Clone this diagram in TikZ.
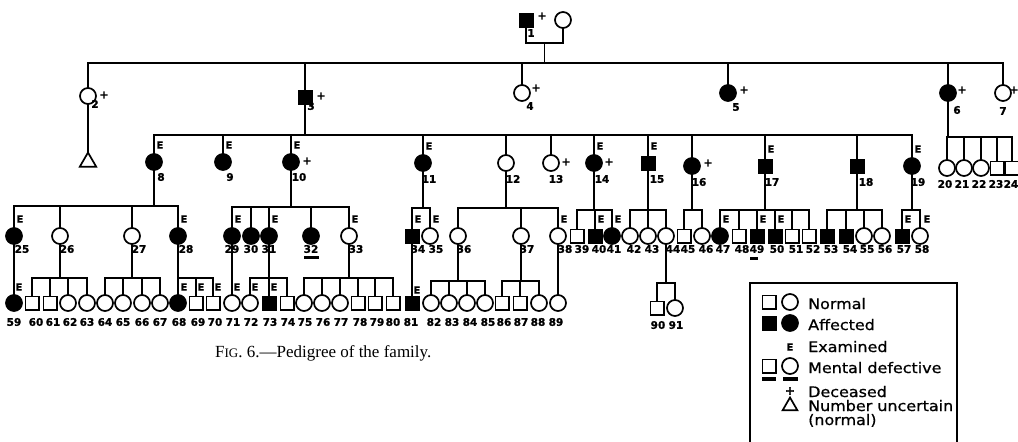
\documentclass[tikz,border=0pt]{standalone}
\usepackage{fontspec}
\setmainfont{DejaVu Sans}
\newfontfamily\capfont{Liberation Serif}
\newfontfamily\keyfont{DejaVu Sans}[FakeStretch=1.1,FakeBold=0.8]
\newfontfamily\numfont{DejaVu Sans Bold}[FakeBold=1.2]
\usetikzlibrary{shapes.geometric,calc,backgrounds}
\newcommand\pnode[4]{\node[#1] (n#2) at (#3,#4) {};}
\newcommand\plab[3]{\node[lb] (l#1) at (#2,#3) {#1};}
\newcommand\pexam[3]{\node[ex] (e#1) at (#2,#3) {E};}
\newcommand\pdec[3]{\node[dc] (d#1) at (#2,#3) {+};}
\newcommand\sibs[4]{%
  \coordinate (b#1) at (0,#2);
  \draw[ln] (n#1.south) -- (n#1.south |- b#1);
  \draw[ln] (n#3.north |- b#1) -- (n#4.north |- b#1);}
\newcommand\drops[2]{\foreach \c in {#2} {\draw[ln] (n\c.north) -- (n\c.north |- b#1);}}
\newcommand\direct[2]{\draw[ln] (n#1.south) -- (n#2.north);}
\begin{document}
\begin{tikzpicture}[x=1pt,y=-1pt,
  ln/.style={line width=1.8pt,line cap=rect},
  sq/.style={draw,line width=1.7pt,rectangle,minimum size=13.3pt,inner sep=0pt,fill=white},
  sqa/.style={sq,fill=black},
  ci/.style={draw,line width=1.7pt,circle,minimum size=16pt,inner sep=0pt,fill=white},
  cia/.style={ci,fill=black},
  tri/.style={draw,line width=1.7pt,regular polygon,regular polygon sides=3,minimum size=19pt,inner sep=0pt},
  lb/.style={font=\numfont\fontsize{10.5}{10.5}\selectfont,inner sep=0pt},
  ex/.style={font=\numfont\fontsize{10}{10}\selectfont,inner sep=0pt},
  dc/.style={font=\numfont\fontsize{11}{11}\selectfont,inner sep=0pt},
  mdbar/.style={fill=black,inner sep=0pt,minimum height=3pt},
  kt/.style={font=\keyfont\fontsize{14.5}{14.5}\selectfont,inner sep=0pt,anchor=base west},
]
\useasboundingbox (0,0) rectangle (1018,442);

% Generation I
\node[sqa] (n1) at (526,20) {};
\node[ci] (s1) at (563,20) {};
\plab{1}{531}{33}
\pdec{1}{542}{16}

% Generation II
\pnode{ci}{2}{88}{96}
\pnode{sqa}{3}{305}{97}
\pnode{ci}{4}{522}{93}
\pnode{cia}{5}{728}{93}
\pnode{cia}{6}{948}{93}
\pnode{ci}{7}{1003}{93}
\node[tri] (t2) at (88,162) {};
\plab{2}{95}{104}\plab{3}{311}{106}\plab{4}{530}{106}
\plab{5}{736}{107}\plab{6}{957}{110}\plab{7}{1003}{111}
\pdec{2}{104}{95}\pdec{3}{321}{96}\pdec{4}{536}{88}
\pdec{5}{744}{90}\pdec{6}{962}{90}\pdec{7}{1014}{90}

% Generation III
\pnode{cia}{8}{154}{162}
\pnode{cia}{9}{223}{162}
\pnode{cia}{10}{291}{162}
\pnode{cia}{11}{423}{163}
\pnode{ci}{12}{506}{163}
\pnode{ci}{13}{551}{163}
\pnode{cia}{14}{594}{163}
\pnode{sqa}{15}{648}{163}
\pnode{cia}{16}{692}{166}
\pnode{sqa}{17}{765}{166}
\pnode{sqa}{18}{857}{166}
\pnode{cia}{19}{912}{166}
\pnode{ci}{20}{947}{168}
\pnode{ci}{21}{964}{168}
\pnode{ci}{22}{981}{168}
\pnode{sq}{23}{997}{168}
\pnode{sq}{24}{1012}{168}
\plab{8}{161}{177}\plab{9}{230}{177}\plab{10}{299}{177}
\plab{11}{429}{179}\plab{12}{513}{179}\plab{13}{556}{179}
\plab{14}{602}{179}\plab{15}{657}{179}\plab{16}{699}{182}
\plab{17}{772}{182}\plab{18}{866}{182}\plab{19}{918}{182}
\plab{20}{945}{184}\plab{21}{962}{184}\plab{22}{979}{184}
\plab{23}{996}{184}\plab{24}{1011}{184}
\pexam{8}{160}{145}\pexam{9}{229}{145}\pexam{10}{297}{145}
\pexam{11}{429}{146}\pexam{14}{600}{146}\pexam{15}{654}{146}
\pexam{17}{771}{149}\pexam{19}{918}{149}
\pdec{10}{307}{161}\pdec{13}{566}{162}\pdec{14}{609}{162}\pdec{16}{708}{163}

% Generation IV
\pnode{cia}{25}{14}{236}
\pnode{ci}{26}{60}{236}
\pnode{ci}{27}{132}{236}
\pnode{cia}{28}{178}{236}
\pnode{cia}{29}{232}{236}
\pnode{cia}{30}{251}{236}
\pnode{cia}{31}{269}{236}
\pnode{cia}{32}{311}{236}
\pnode{ci}{33}{349}{236}
\pnode{sqa}{34}{412}{236}
\pnode{ci}{35}{430}{236}
\pnode{ci}{36}{458}{236}
\pnode{ci}{37}{521}{236}
\pnode{ci}{38}{558}{236}
\pnode{sq}{39}{577}{236}
\pnode{sqa}{40}{595}{236}
\pnode{cia}{41}{612}{236}
\pnode{ci}{42}{630}{236}
\pnode{ci}{43}{648}{236}
\pnode{ci}{44}{666}{236}
\pnode{sq}{45}{684}{236}
\pnode{ci}{46}{702}{236}
\pnode{cia}{47}{720}{236}
\pnode{sq}{48}{739}{236}
\pnode{sqa}{49}{757}{236}
\pnode{sqa}{50}{775}{236}
\pnode{sq}{51}{792}{236}
\pnode{sq}{52}{809}{236}
\pnode{sqa}{53}{827}{236}
\pnode{sqa}{54}{846}{236}
\pnode{ci}{55}{864}{236}
\pnode{ci}{56}{882}{236}
\pnode{sqa}{57}{902}{236}
\pnode{ci}{58}{920}{236}
\plab{25}{22}{249}\plab{26}{67}{249}\plab{27}{139}{249}\plab{28}{186}{249}
\plab{29}{232}{249}\plab{30}{251}{249}\plab{31}{269}{249}\plab{32}{311}{249}
\plab{33}{356}{249}\plab{34}{418}{249}\plab{35}{436}{249}\plab{36}{464}{249}
\plab{37}{527}{249}\plab{38}{565}{249}\plab{39}{582}{249}\plab{40}{599}{249}
\plab{41}{614}{249}\plab{42}{634}{249}\plab{43}{652}{249}\plab{44}{673}{249}
\plab{45}{688}{249}\plab{46}{706}{249}\plab{47}{723}{249}\plab{48}{742}{249}
\plab{49}{757}{249}\plab{50}{777}{249}\plab{51}{796}{249}\plab{52}{813}{249}
\plab{53}{831}{249}\plab{54}{850}{249}\plab{55}{867}{249}\plab{56}{885}{249}
\plab{57}{904}{249}\plab{58}{922}{249}
\node[mdbar,minimum width=15pt] (md32) at (311,257) {};
\node[mdbar,minimum width=8pt] (md49) at (754,258) {};
\pexam{25}{20}{219}\pexam{28}{184}{219}\pexam{29}{238}{219}\pexam{31}{275}{219}
\pexam{33}{355}{219}\pexam{34}{418}{219}\pexam{35}{436}{219}\pexam{38}{564}{219}
\pexam{40}{601}{219}\pexam{41}{618}{219}\pexam{47}{726}{219}\pexam{49}{763}{219}
\pexam{50}{781}{219}\pexam{57}{908}{219}\pexam{58}{927}{219}

% Generation V
\pnode{cia}{59}{14}{303}
\pnode{sq}{60}{32}{303}
\pnode{sq}{61}{50}{303}
\pnode{ci}{62}{68}{303}
\pnode{ci}{63}{87}{303}
\pnode{ci}{64}{105}{303}
\pnode{ci}{65}{123}{303}
\pnode{ci}{66}{142}{303}
\pnode{ci}{67}{160}{303}
\pnode{cia}{68}{178}{303}
\pnode{sq}{69}{196}{303}
\pnode{sq}{70}{213}{303}
\pnode{ci}{71}{232}{303}
\pnode{ci}{72}{250}{303}
\pnode{sqa}{73}{269}{303}
\pnode{sq}{74}{287}{303}
\pnode{ci}{75}{304}{303}
\pnode{ci}{76}{322}{303}
\pnode{ci}{77}{340}{303}
\pnode{sq}{78}{358}{303}
\pnode{sq}{79}{375}{303}
\pnode{sq}{80}{393}{303}
\pnode{sqa}{81}{412}{303}
\pnode{ci}{82}{431}{303}
\pnode{ci}{83}{449}{303}
\pnode{ci}{84}{467}{303}
\pnode{ci}{85}{485}{303}
\pnode{sq}{86}{502}{303}
\pnode{sq}{87}{520}{303}
\pnode{ci}{88}{539}{303}
\pnode{ci}{89}{558}{303}
\pnode{sq}{90}{657}{308}
\pnode{ci}{91}{675}{308}
\plab{59}{14}{322}\plab{60}{36}{322}\plab{61}{53}{322}\plab{62}{70}{322}
\plab{63}{87}{322}\plab{64}{105}{322}\plab{65}{123}{322}\plab{66}{142}{322}
\plab{67}{160}{322}\plab{68}{179}{322}\plab{69}{198}{322}\plab{70}{215}{322}
\plab{71}{233}{322}\plab{72}{251}{322}\plab{73}{270}{322}\plab{74}{288}{322}
\plab{75}{305}{322}\plab{76}{323}{322}\plab{77}{341}{322}\plab{78}{360}{322}
\plab{79}{377}{322}\plab{80}{393}{322}\plab{81}{411}{322}\plab{82}{434}{322}
\plab{83}{452}{322}\plab{84}{470}{322}\plab{85}{488}{322}\plab{86}{504}{322}
\plab{87}{521}{322}\plab{88}{538}{322}\plab{89}{556}{322}
\plab{90}{658}{325}\plab{91}{676}{325}
\pexam{59}{19}{287}\pexam{68}{184}{287}\pexam{69}{201}{287}\pexam{70}{218}{287}
\pexam{71}{237}{287}\pexam{72}{255}{287}\pexam{73}{274}{287}\pexam{81}{417}{290}

% Connectors
\begin{scope}[on background layer]
  \coordinate (m1) at (0,43);
  \draw[ln] (n1.south) -- (n1.south |- m1) -- (s1.south |- m1) -- (s1.south);
  \coordinate (c1) at ($(n1.south |- m1)!0.5!(s1.south |- m1)$);
  \coordinate (b1) at (0,63);
  \draw[ln] (c1) -- (c1 |- b1);
  \draw[ln] (n2.north |- b1) -- (n7.north |- b1);
  \drops{1}{2,3,4,5,6,7}
  \draw[ln] (n2.south) -- (t2.north);
  \sibs{3}{135}{8}{19}
  \drops{3}{8,9,10,11,12,13,14,15,16,17,18,19}
  \sibs{6}{137}{20}{24}
  \drops{6}{20,21,22,23,24}
  \sibs{8}{206}{25}{28}
  \drops{8}{25,26,27,28}
  \sibs{10}{207}{29}{33}
  \drops{10}{29,30,31,32,33}
  \sibs{11}{208}{34}{35}
  \drops{11}{34,35}
  \sibs{12}{208}{36}{38}
  \drops{12}{36,37,38}
  \sibs{14}{210}{39}{41}
  \drops{14}{39,40,41}
  \sibs{15}{210}{42}{44}
  \drops{15}{42,43,44}
  \sibs{16}{210}{45}{46}
  \drops{16}{45,46}
  \sibs{17}{210}{47}{52}
  \drops{17}{47,48,49,50,51,52}
  \sibs{18}{210}{53}{56}
  \drops{18}{53,54,55,56}
  \sibs{19}{210}{57}{58}
  \drops{19}{57,58}
  \direct{25}{59}
  \sibs{26}{278}{60}{63}
  \drops{26}{60,61,62,63}
  \sibs{27}{278}{64}{67}
  \drops{27}{64,65,66,67}
  \direct{28}{68}
  \coordinate (b28) at (0,278);
  \draw[ln] (n68.north |- b28) -- (n70.north |- b28);
  \drops{28}{69,70}
  \direct{29}{71}
  \direct{31}{73}
  \coordinate (b31) at (0,278);
  \draw[ln] (n72.north |- b31) -- (n74.north |- b31);
  \drops{31}{72,74}
  \sibs{33}{278}{75}{80}
  \drops{33}{75,76,77,78,79,80}
  \direct{34}{81}
  \sibs{36}{281}{82}{85}
  \drops{36}{82,83,84,85}
  \sibs{37}{281}{86}{88}
  \drops{37}{86,87,88}
  \direct{38}{89}
  \sibs{44}{283}{90}{91}
  \drops{44}{90,91}
\end{scope}

% Caption
\node[font=\capfont\fontsize{17}{17}\selectfont,anchor=base west,inner sep=0pt] (cap) at (215,357)
  {F{\fontsize{13}{13}\selectfont IG}. 6.—Pedigree of the family.};

% Legend
\draw[line width=2pt] (750,283) rectangle (957,450);
\node[sq] (k1) at (769,302) {};
\node[ci] (k2) at (790,302) {};
\node[sqa] (k3) at (769,323) {};
\node[cia] (k4) at (790,323) {};
\node[ex] (k5) at (790,347) {E};
\node[sq] (k6) at (769,366) {};
\node[ci] (k7) at (790,366) {};
\node[mdbar,minimum width=14pt,minimum height=3.5pt] (k8) at (769,379) {};
\node[mdbar,minimum width=15pt,minimum height=3.5pt] (k9) at (790,379) {};
\node[font=\numfont\fontsize{12}{12}\selectfont,inner sep=0pt] (k10) at (790,391) {+};
\node[tri,minimum size=17pt] (k11) at (790,406) {};
\node[kt] (t1) at (808,309) {Normal};
\node[kt] (t2x) at (808,330) {Affected};
\node[kt] (t3) at (808,352) {Examined};
\node[kt] (t4) at (808,373) {Mental defective};
\node[kt] (t5) at (808,397) {Deceased};
\node[kt] (t6) at (808,411) {Number uncertain};
\node[kt] (t7) at (808,425) {(normal)};
\end{tikzpicture}
\end{document}
